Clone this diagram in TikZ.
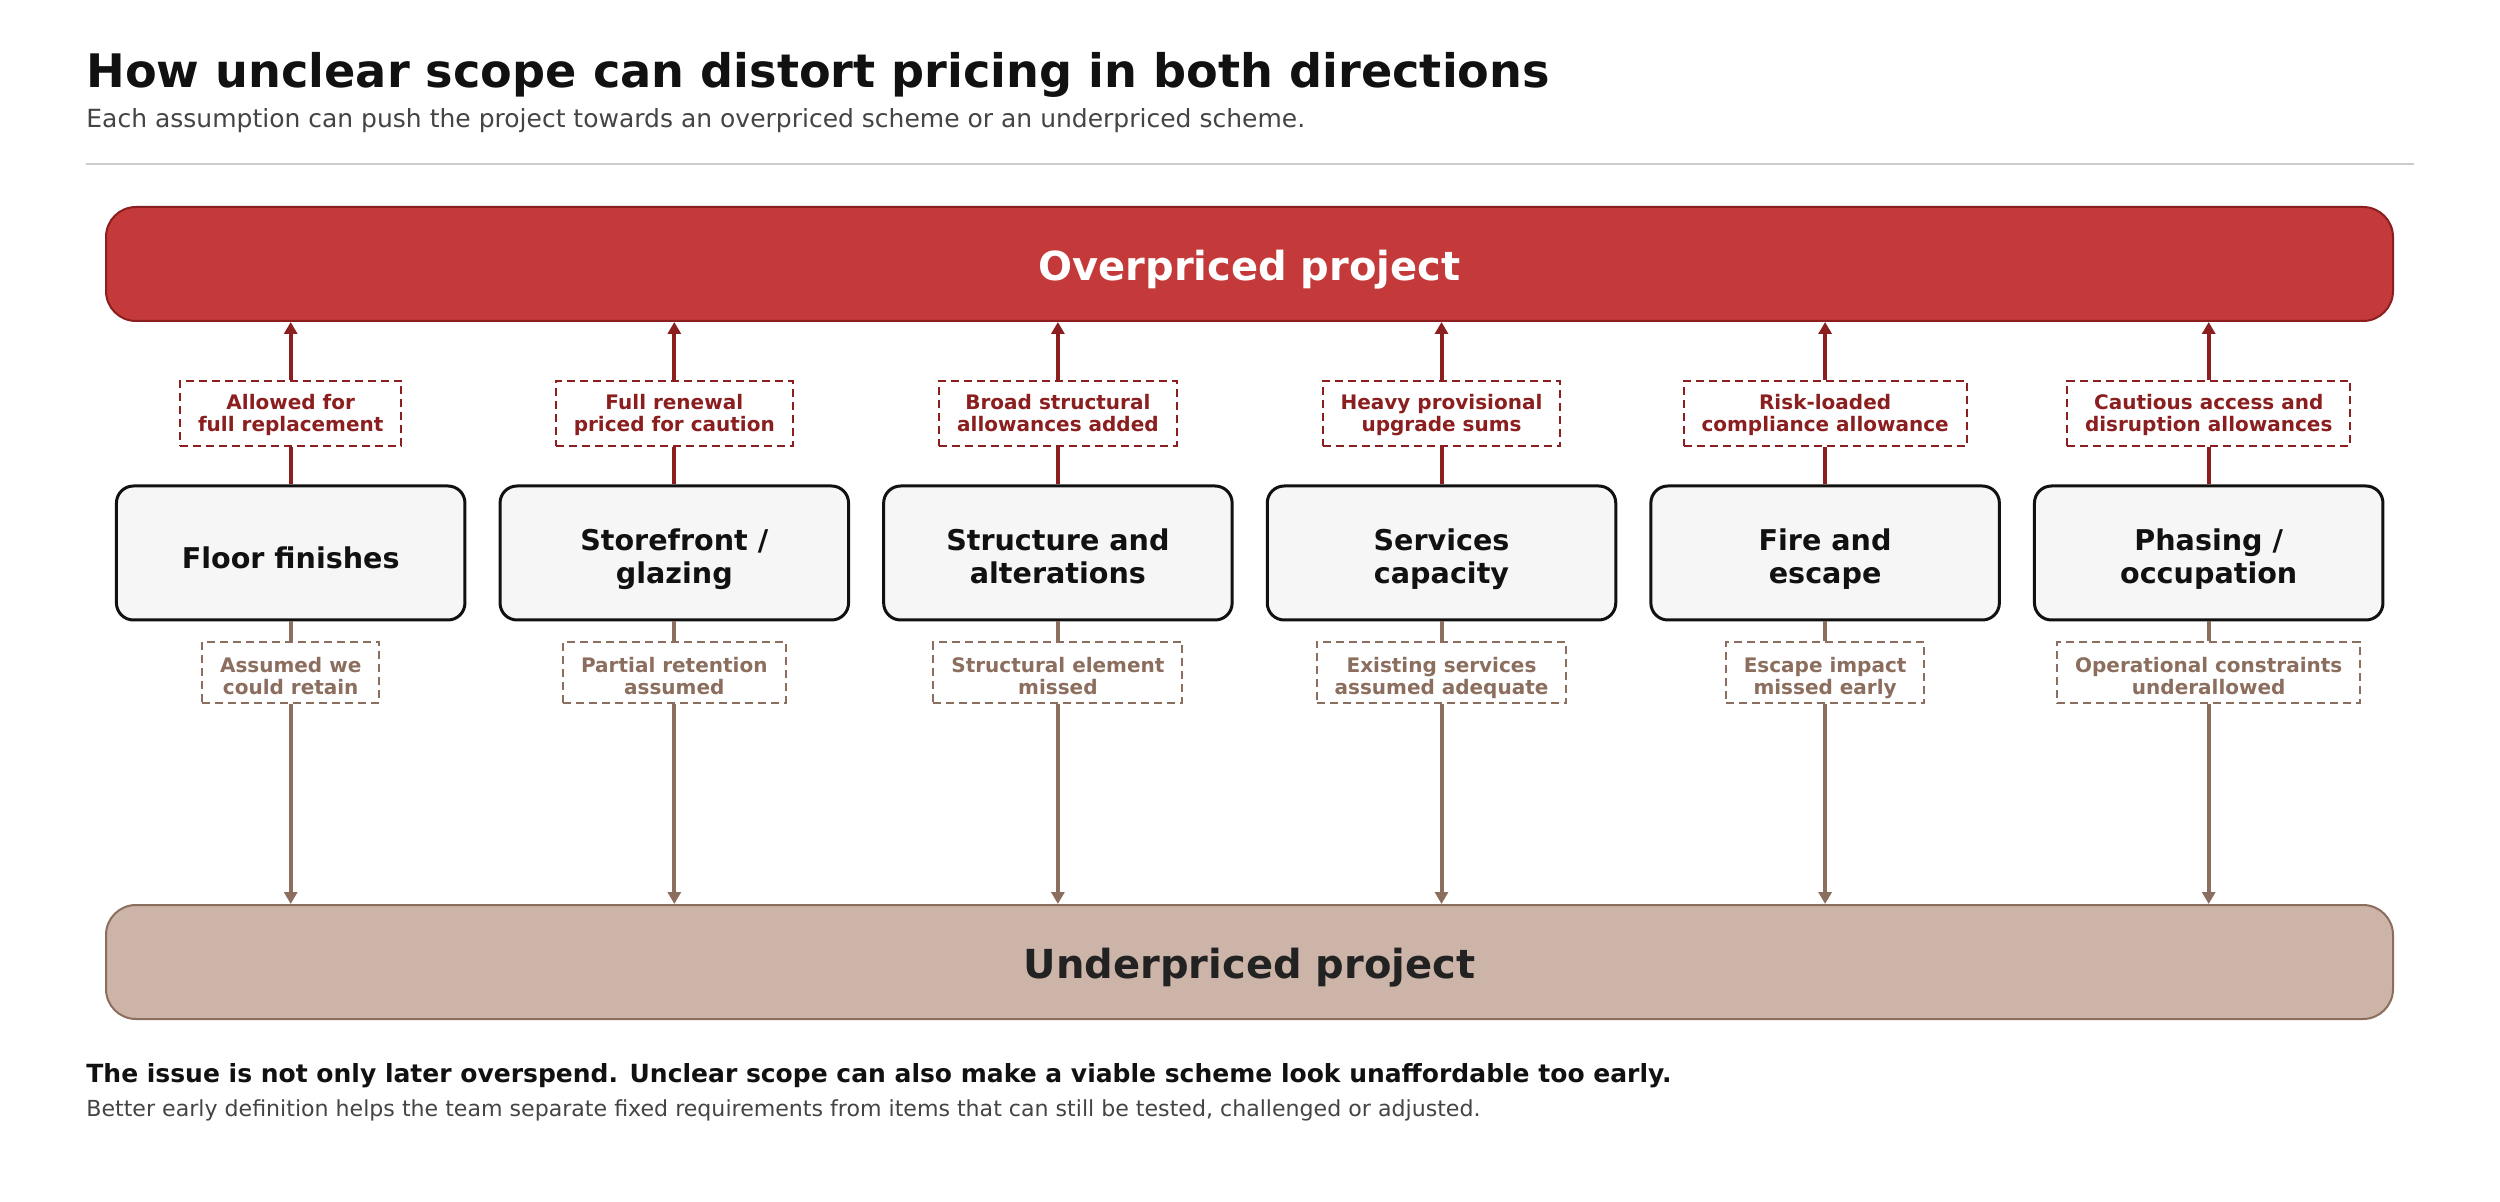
\documentclass[tikz,border=0pt]{standalone}
\usepackage{fontspec}
\setmainfont{DejaVu Sans}
\usetikzlibrary{arrows.meta}
\definecolor{redfill}{HTML}{C43A3A}
\definecolor{redline}{HTML}{8B1E1E}
\definecolor{brownline}{HTML}{8C6E5E}
\definecolor{brownfill}{HTML}{CCB5A8}
\definecolor{midfill}{HTML}{F6F6F6}
\definecolor{ink}{HTML}{111111}
\definecolor{undertext}{HTML}{222222}
\definecolor{greytext}{HTML}{444444}
\definecolor{rulegrey}{HTML}{CCCCCC}
\begin{document}
\begin{tikzpicture}[x=0.5pt,y=-0.5pt,
  bigbox/.style={rounded corners=15pt, minimum width=1143.5pt, minimum height=57pt, inner sep=0pt, line width=1pt, text height=16.8pt, text depth=0pt, font=\fontsize{20}{24}\selectfont\bfseries},
  midbox/.style={draw=ink, line width=1.5pt, fill=midfill, rounded corners=8.5pt, minimum width=174.25pt, minimum height=67pt, align=center, text=ink, font=\fontsize{14.3}{16.6}\selectfont\bfseries, inner sep=0pt},
  midtwo/.style={midbox, text height=31pt, text depth=0pt},
  midone/.style={midbox, text height=16pt, text depth=0pt},
  lab/.style={dash pattern=on 4pt off 2.5pt, line width=1pt, fill=white, align=center, font=\fontsize{10}{11}\selectfont\bfseries, inner xsep=9pt, inner ysep=0pt, text depth=0pt},
  redlab/.style={lab, draw=redline, text=redline, minimum height=32.5pt, text height=18.5pt},
  brownlab/.style={lab, draw=brownline, text=brownline, minimum height=30.5pt, text height=22.5pt},
  redarrow/.style={draw=redline, line width=2pt},
  brownarrow/.style={draw=brownline, line width=2pt},
  tip/.style={-{Triangle[length=6pt,width=6.5pt]}},
  plain/.style={anchor=base west, inner sep=0pt}
]
\useasboundingbox[fill=white] (0,0) rectangle (2500,1202);

\node[plain, text=ink, font=\fontsize{23.1}{27}\selectfont\bfseries] (title) at (86,88) {How unclear scope can distort pricing in both directions};
\node[plain, text=greytext, font=\fontsize{12.5}{15}\selectfont] (subtitle) at (86,128) {Each assumption can push the project towards an overpriced scheme or an underpriced scheme.};
\coordinate (ruleA) at (86,164);
\coordinate (ruleB) at (2414,164);
\draw[rulegrey, line width=1pt] (ruleA) -- (ruleB);

\node[bigbox, fill=redfill, draw=redline, text=white] (over) at (1249.5,264) {Overpriced project};
\node[bigbox, fill=brownfill, draw=brownline, text=undertext] (under) at (1249.5,962) {Underpriced project};

\foreach \i/\cx/\ms/\mt/\rt/\bt in {
  1/290.7/midone/{Floor finishes}/{Allowed for\\full replacement}/{Assumed we\\could retain},
  2/674.3/midtwo/{Storefront /\\glazing}/{Full renewal\\priced for caution}/{Partial retention\\assumed},
  3/1057.9/midtwo/{Structure and\\alterations}/{Broad structural\\allowances added}/{Structural element\\missed},
  4/1441.5/midtwo/{Services\\capacity}/{Heavy provisional\\upgrade sums}/{Existing services\\assumed adequate},
  5/1825.1/midtwo/{Fire and\\escape}/{Risk-loaded\\compliance allowance}/{Escape impact\\missed early},
  6/2208.7/midtwo/{Phasing /\\occupation}/{Cautious access and\\disruption allowances}/{Operational constraints\\underallowed}}{
  \node[\ms] (m\i) at (\cx,553) {\mt};
  \node[redlab] (r\i) at (\cx,413.5) {\rt};
  \node[brownlab] (b\i) at (\cx,672.5) {\bt};
  \draw[redarrow] (m\i.north) -- (r\i.south);
  \draw[redarrow, tip] (r\i.north) -- (r\i.north |- over.south);
  \draw[brownarrow] (m\i.south) -- (b\i.north);
  \draw[brownarrow, tip] (b\i.south) -- (b\i.south |- under.north);
}

\node[plain, text=ink, font=\fontsize{12.5}{15}\selectfont\bfseries] (foot1) at (86,1082) {The issue is not only later overspend. Unclear scope can also make a viable scheme look unaffordable too early.};
\node[plain, text=greytext, font=\fontsize{11.05}{13}\selectfont] (foot2) at (86,1116) {Better early definition helps the team separate fixed requirements from items that can still be tested, challenged or adjusted.};
\end{tikzpicture}
\end{document}
